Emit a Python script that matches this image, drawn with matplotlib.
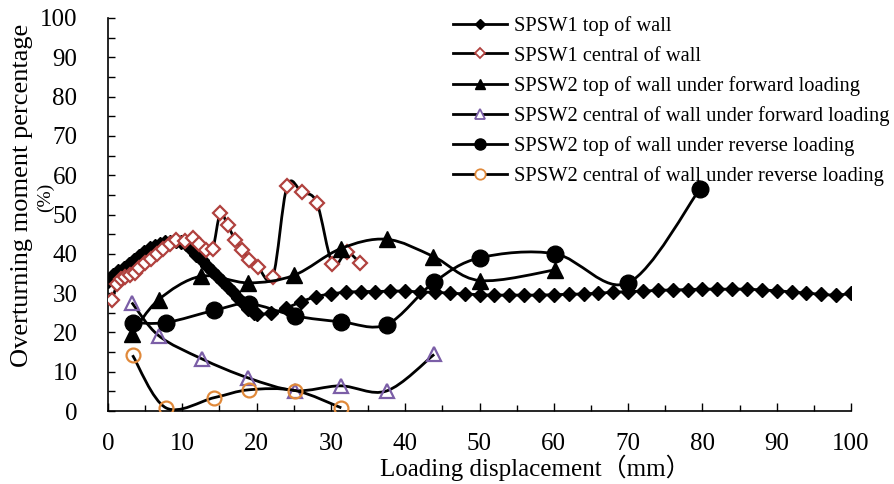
import numpy as np
import matplotlib
matplotlib.use('Agg')
import matplotlib.pyplot as plt
from matplotlib.path import Path
from matplotlib.patches import PathPatch
from matplotlib.lines import Line2D
from matplotlib.ticker import MultipleLocator

plt.rcParams['font.family'] = ['Liberation Serif', 'Noto Sans CJK SC']

# SPSW1 top of wall
x_s1_top = [0, 0.7, 1.4, 2.1, 2.8, 3.5, 4.2, 4.9, 5.6, 6.3, 7.0, 7.7, 8.4, 9.1, 9.8,
            10.5, 11.2, 11.9, 12.6, 13.3, 14.0, 14.7, 15.4, 16.1, 16.8, 17.5, 18.2, 18.9, 19.6,
            20, 22, 24, 26, 28, 30, 32, 34, 36, 38, 40, 42, 44, 46, 48, 50, 52, 54, 56, 58,
            60, 62, 64, 66, 68, 70, 72, 74, 76, 78, 80, 82, 84, 86, 88, 90, 92, 94, 96, 98, 100]
y_s1_top = [33, 34.5, 35.5, 36.5, 37.5, 38.5, 39.5, 40.5, 41.5, 42, 42.5, 43, 43, 43.2, 43,
            42.5, 41.2, 39.8, 38.4, 37, 35.7, 34.3, 33, 31.6, 30.2, 28.8, 27.4, 26, 25,
            24.6, 24.9, 26.2, 27.8, 29.1, 29.8, 30.2, 30.4, 30.4, 30.5, 30.5, 30.3, 30.2, 30, 29.8, 29.6, 29.5, 29.5, 29.5, 29.5,
            29.6, 29.7, 29.8, 30, 30.2, 30.4, 30.5, 30.7, 30.8, 30.9, 31, 31, 31, 31, 30.8, 30.6, 30.3, 30, 29.7, 29.5, 29.9]

# SPSW1 central of wall
x_s1_mid = [0.6, 1.2, 1.7, 2.3, 3.0, 3.6, 4.2, 5.0, 5.8, 6.6, 7.4, 8.3, 9.2, 10.3, 11.4,
            12.2, 13.2, 14.1, 15.1, 16.1, 17.1, 18.1, 19.0, 20.2, 22.2, 24.1, 26.1, 28.1,
            30.2, 32.1, 33.9]
y_s1_mid = [28.3, 32.3, 33.5, 34.2, 34.5, 35.2, 36.3, 37.6, 38.8, 40.0, 41.2, 42.6, 43.4, 43.2, 44.0,
            42.4, 41.0, 41.2, 50.3, 47.3, 43.6, 41.0, 38.5, 36.6, 34.2, 57.2, 55.6, 53.0,
            37.5, 40.4, 37.7]

# SPSW2 forward loading
x_s2_fwd = [3.2, 6.8, 12.5, 18.9, 25.0, 31.3, 37.5, 43.8, 50.0, 60.2]
y_s2_fwd_top = [19.6, 28.3, 34.3, 32.6, 34.5, 41.3, 43.7, 39.3, 33.2, 35.9]
x_s2_fwd_mid = [3.2, 6.8, 12.6, 18.9, 25.2, 31.3, 37.5, 43.9]
y_s2_fwd_mid = [27.6, 19.2, 13.3, 8.4, 5.2, 6.4, 5.1, 14.4]

# SPSW2 reverse loading
x_s2_rev = [3.3, 7.8, 14.3, 19.0, 25.2, 31.4, 37.5, 43.9, 50.1, 60.2, 70.0, 79.7]
y_s2_rev_top = [22.5, 22.5, 25.6, 27.3, 24.2, 22.7, 22.0, 32.8, 39.0, 40.0, 32.6, 56.6]
x_s2_rev_mid = [3.3, 7.8, 14.3, 19.0, 25.2, 31.4]
y_s2_rev_mid = [14.2, 0.8, 3.4, 5.4, 5.2, 0.8]

labels = ['SPSW1 top of wall',
          'SPSW1 central of wall',
          'SPSW2 top of wall under forward loading',
          'SPSW2 central of wall under forward loading',
          'SPSW2 top of wall under reverse loading',
          'SPSW2 central of wall under reverse loading']

red = '#b0413e'
purple = '#7b5ea7'
orange = '#e0893a'


def smooth_path(xs, ys):
    # smoothed line through the points, bezier segments like a spreadsheet's smooth line
    p = np.column_stack([xs, ys]).astype(float)
    n = len(p)
    verts = [p[0]]
    codes = [Path.MOVETO]
    for i in range(n - 1):
        p0 = p[i - 1] if i > 0 else p[i]
        p3 = p[i + 2] if i + 2 < n else p[i + 1]
        c1 = p[i] + (p[i + 1] - p0) / 6.0
        c2 = p[i + 1] - (p3 - p[i]) / 6.0
        verts += [c1, c2, p[i + 1]]
        codes += [Path.CURVE4] * 3
    return Path(verts, codes)


fig = plt.figure(figsize=(8.94, 4.84), dpi=100)
ax = fig.add_axes([108 / 894, 1 - 411 / 484, 743 / 894, 393 / 484])

series = [
    (x_s1_top, y_s1_top, dict(marker='D', ms=7.5, mfc='k', mec='k', mew=1), dict(marker='D', ms=5, mfc='k', mec='k')),
    (x_s1_mid, y_s1_mid, dict(marker='D', ms=6.8, mfc='white', mec=red, mew=1.6), dict(marker='D', ms=5, mfc='white', mec=red, mew=1.3)),
    (x_s2_fwd, y_s2_fwd_top, dict(marker='^', ms=11, mfc='k', mec='k'), dict(marker='^', ms=7.5, mfc='k', mec='k')),
    (x_s2_fwd_mid, y_s2_fwd_mid, dict(marker='^', ms=10, mfc='none', mec=purple, mew=1.6), dict(marker='^', ms=7.5, mfc='white', mec=purple, mew=1.3)),
    (x_s2_rev, y_s2_rev_top, dict(marker='o', ms=12, mfc='k', mec='k'), dict(marker='o', ms=8, mfc='k', mec='k')),
    (x_s2_rev_mid, y_s2_rev_mid, dict(marker='o', ms=10, mfc='none', mec=orange, mew=1.6), dict(marker='o', ms=7.5, mfc='white', mec=orange, mew=1.3)),
]

handles = []
for k, (xs, ys, mk, lk) in enumerate(series):
    z = 2 + k
    ax.add_patch(PathPatch(smooth_path(xs, ys), fc='none', ec='k', lw=2.0, zorder=z))
    ax.plot(xs, ys, ls='none', zorder=z + 0.5, **mk)
    handles.append(Line2D([], [], color='k', lw=2.0, **lk))

ax.set_xlim(0, 100)
ax.set_ylim(0, 100)
ax.xaxis.set_major_locator(MultipleLocator(10))
ax.xaxis.set_minor_locator(MultipleLocator(5))
ax.yaxis.set_major_locator(MultipleLocator(10))
ax.yaxis.set_minor_locator(MultipleLocator(5))
ax.tick_params(axis='both', which='both', direction='in', width=1.0, labelsize=18)
ax.tick_params(axis='x', which='major', length=6, pad=16)
ax.tick_params(axis='x', which='minor', length=4)
ax.tick_params(axis='y', which='both', length=5, pad=22)
ax.spines['top'].set_visible(False)
ax.spines['right'].set_visible(False)
ax.spines['left'].set_linewidth(1.2)
ax.spines['bottom'].set_linewidth(1.2)

ax.set_xlabel('Loading displacement（mm）', fontsize=18)
ax.xaxis.set_label_coords(0.575, -0.112)
fig.text(22 / 894, 1 - 195 / 484, 'Overturning moment percentage', rotation=90,
         fontsize=19, ha='center', va='center')
fig.text(45 / 894, 1 - 197 / 484, '(%)', rotation=90, fontsize=14, ha='center', va='center')

ax.legend(handles, labels, loc='upper left', bbox_to_anchor=(453 / 894, 1 - 16 / 484),
          bbox_transform=fig.transFigure, frameon=False, fontsize=14.8, borderpad=0,
          borderaxespad=0, handlelength=2.65, handletextpad=0.3, labelspacing=0.5)

fig.savefig('out.png', dpi=100)
